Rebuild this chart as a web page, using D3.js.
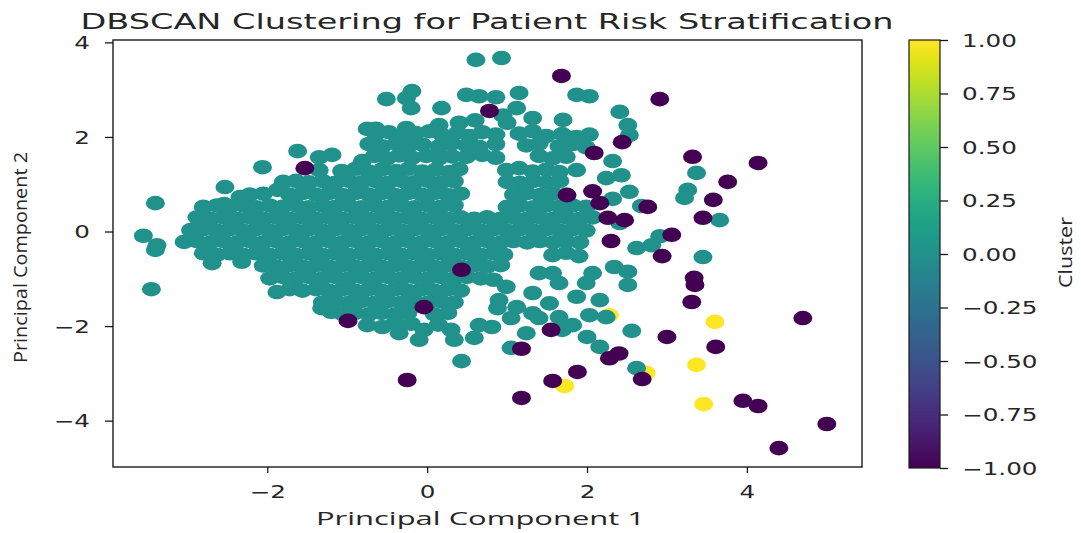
<!DOCTYPE html>
<html lang="en">
<head>
<meta charset="utf-8">
<title>DBSCAN Clustering for Patient Risk Stratification</title>
<script src="https://cdn.jsdelivr.net/npm/d3@7"></script>
<style>
  body { margin: 0; background: #fff; }
  svg { display: block; }
</style>
</head>
<body>
<script>
// cluster -1 (noise)
var noisePts = [
  [-1.53,1.34],[0.78,2.55],[1.68,3.29],[2.91,2.80],[2.09,1.66],[2.44,1.89],[1.75,0.77],
  [2.07,0.85],[2.16,0.60],[2.26,0.29],[2.47,0.24],[2.30,-0.20],[2.76,0.52],[3.06,-0.07],
  [2.94,-0.52],[3.32,1.58],[3.58,0.67],[3.76,1.05],[4.14,1.45],[3.45,0.29],[3.34,-0.98],
  [3.35,-1.13],[3.31,-1.49],[4.70,-1.83],[3.00,-2.23],[3.61,-2.44],[2.28,-2.68],[2.40,-2.58],
  [2.69,-3.12],[3.95,-3.58],[4.14,-3.69],[5.00,-4.07],[4.40,-4.58],[1.88,-2.97],[1.57,-3.16],
  [1.18,-3.52],[-0.25,-3.14],[1.18,-2.48],[1.55,-2.08],[-0.99,-1.89],[-0.04,-1.60],[0.43,-0.81]
];

// cluster 0 (the big blob), roughly row by row from top to bottom
var clusterZeroPts = [
  [0.61,3.63],[0.93,3.67],
  [-0.51,2.80],[-0.19,2.97],[-0.26,2.82],[-0.20,2.61],[0.18,2.61],[0.49,2.89],[0.65,2.86],
  [0.86,2.84],[1.15,2.93],[1.12,2.61],[1.87,2.89],[2.03,2.86],[1.70,2.36],[1.32,2.40],
  [-0.64,2.17],[-0.75,2.17],[-0.26,2.19],[0.15,2.25],[2.41,2.53],[2.51,2.25],[2.53,2.04],
  [0.95,2.45],[0.60,2.35],[0.40,2.30],[1.00,2.30],
  [-0.64,2.06],[-0.48,2.10],[-0.31,2.03],[-0.14,2.08],[0.03,2.12],[0.19,2.04],[0.38,2.09],
  [0.53,2.02],[0.69,2.10],[0.86,2.05],[1.15,2.07],[1.32,2.12],[1.49,2.02],[1.69,2.06],
  [1.87,2.00],[2.03,2.05],
  [-0.73,1.85],[-0.56,1.80],[-0.39,1.86],[-0.23,1.81],[-0.06,1.84],[0.15,1.80],[0.31,1.86],
  [0.49,1.82],[0.65,1.79],[0.86,1.85],[1.24,1.82],[1.40,1.86],[1.65,1.80],[1.82,1.85],[1.99,1.78],
  [-1.62,1.70],[-1.35,1.57],[-1.19,1.62],[-0.81,1.49],[-2.06,1.36],
  [-0.66,1.60],[-0.50,1.55],[-0.35,1.61],[-0.19,1.56],[-0.01,1.60],[0.15,1.55],[0.31,1.59],
  [0.49,1.58],[0.69,1.62],[0.86,1.56],[1.40,1.60],[1.57,1.55],[1.74,1.58],
  [-1.35,1.30],[-1.07,1.28],[-0.89,1.33],[-0.73,1.27],[-0.56,1.32],[-0.39,1.28],[-0.23,1.33],
  [-0.06,1.27],[0.11,1.31],[0.28,1.26],[0.40,1.32],[0.99,1.30],[1.15,1.34],[1.32,1.27],
  [1.49,1.31],[1.65,1.26],[1.87,1.30],
  [-1.80,1.05],[-1.64,1.07],[-1.48,1.04],[-1.31,1.07],[-1.15,1.03],[-0.98,1.07],[-0.82,1.04],
  [-0.65,1.07],[-0.49,1.03],[-0.32,1.07],[-0.16,1.04],[0.01,1.07],[0.17,1.03],[0.34,1.06],
  [1.00,1.05],[1.16,1.03],[1.33,1.07],[1.49,1.04],[1.66,1.07],
  [2.32,1.49],[2.43,1.19],[2.24,1.13],
  [-2.53,0.94],[-3.40,0.60],[-2.34,0.73],[-2.54,0.58],[-1.87,0.88],
  [-2.22,0.78],[-2.05,0.80],[-1.72,0.78],[-1.56,0.81],[-1.39,0.78],[-1.23,0.81],[-1.06,0.77],
  [-0.90,0.81],[-0.73,0.78],[-0.57,0.81],[-0.40,0.77],[-0.24,0.81],[-0.07,0.78],[0.09,0.81],
  [0.26,0.77],[0.42,0.80],[1.08,0.78],[1.25,0.81],[1.41,0.77],[1.58,0.80],[1.74,0.78],
  [2.53,0.84],[2.32,0.69],[2.68,0.54],[3.26,0.88],[3.22,0.71],[3.37,1.24],
  [-2.80,0.52],[-2.63,0.55],[-2.47,0.52],[-2.30,0.55],[-2.14,0.51],[-1.97,0.55],[-1.81,0.52],
  [-1.64,0.55],[-1.48,0.51],[-1.31,0.55],[-1.15,0.52],[-0.98,0.55],[-0.82,0.51],[-0.65,0.55],
  [-0.49,0.52],[-0.32,0.55],[-0.16,0.51],[0.01,0.55],[0.17,0.52],[0.34,0.55],[1.00,0.52],
  [1.16,0.55],[1.33,0.51],[1.49,0.55],[1.66,0.52],[1.82,0.55],[1.99,0.52],
  [-2.88,0.30],[-2.71,0.27],[-2.55,0.30],[-2.38,0.27],[-2.22,0.30],[-2.05,0.27],[-1.89,0.30],
  [-1.72,0.27],[-1.56,0.30],[-1.39,0.27],[-1.23,0.30],[-1.06,0.27],[-0.90,0.30],[-0.73,0.27],
  [-0.57,0.30],[-0.40,0.27],[-0.24,0.30],[-0.07,0.27],[0.09,0.30],[0.26,0.27],[0.42,0.30],
  [0.59,0.27],[0.75,0.30],[0.92,0.27],[1.08,0.30],[1.25,0.27],[1.41,0.30],[1.58,0.27],
  [1.74,0.30],[1.91,0.27],[2.07,0.30],[2.41,0.18],[3.66,0.24],
  [-2.96,0.03],[-2.80,0.05],[-2.63,0.02],[-2.47,0.05],[-2.30,0.02],[-2.14,0.05],[-1.97,0.02],
  [-1.81,0.05],[-1.64,0.02],[-1.48,0.05],[-1.31,0.02],[-1.15,0.05],[-0.98,0.02],[-0.82,0.05],
  [-0.65,0.02],[-0.49,0.05],[-0.32,0.02],[-0.16,0.05],[0.01,0.02],[0.17,0.05],[0.34,0.02],
  [0.50,0.05],[0.67,0.02],[0.83,0.05],[1.00,0.02],[1.16,0.05],[1.33,0.02],[1.49,0.05],
  [1.66,0.02],[1.82,0.05],[1.99,0.02],[-3.55,-0.09],
  [-3.38,-0.29],[-3.04,-0.22],[-2.88,-0.20],[-2.71,-0.23],[-2.55,-0.20],[-2.38,-0.23],[-2.22,-0.20],
  [-2.05,-0.23],[-1.89,-0.20],[-1.72,-0.23],[-1.56,-0.20],[-1.39,-0.23],[-1.23,-0.20],[-1.06,-0.23],
  [-0.90,-0.20],[-0.73,-0.23],[-0.57,-0.20],[-0.40,-0.23],[-0.24,-0.20],[-0.07,-0.23],[0.09,-0.20],
  [0.26,-0.23],[0.42,-0.20],[0.59,-0.23],[0.75,-0.20],[0.92,-0.23],[1.08,-0.20],[1.25,-0.23],
  [1.41,-0.20],[1.58,-0.23],[1.74,-0.20],[1.91,-0.23],[2.62,-0.35],[2.81,-0.29],[2.91,-0.10],
  [-2.80,-0.46],[-2.63,-0.49],[-2.47,-0.46],[-2.30,-0.49],[-2.14,-0.46],[-1.97,-0.49],[-1.81,-0.46],
  [-1.64,-0.49],[-1.48,-0.46],[-1.31,-0.49],[-1.15,-0.46],[-0.98,-0.49],[-0.82,-0.46],[-0.65,-0.49],
  [-0.49,-0.46],[-0.32,-0.49],[-0.16,-0.46],[0.01,-0.49],[0.17,-0.46],[0.34,-0.49],[0.50,-0.46],
  [0.67,-0.49],[0.83,-0.46],[0.96,-0.49],[1.57,-0.50],[1.74,-0.45],[1.90,-0.52],
  [-2.69,-0.67],[-2.32,-0.64],[-2.05,-0.72],[-1.89,-0.74],[-1.72,-0.71],[-1.56,-0.74],[-1.39,-0.71],
  [-1.23,-0.74],[-1.06,-0.71],[-0.90,-0.74],[-0.73,-0.71],[-0.57,-0.74],[-0.40,-0.71],[-0.24,-0.74],
  [-0.07,-0.71],[0.09,-0.74],[0.26,-0.71],[0.42,-0.74],[0.59,-0.71],[0.75,-0.74],[0.92,-0.71],
  [1.40,-0.88],[1.57,-0.88],[2.07,-0.88],[2.34,-0.75],[3.45,-0.54],
  [-1.97,-0.99],[-1.81,-0.96],[-1.64,-0.99],[-1.48,-0.96],[-1.31,-0.99],[-1.15,-0.96],[-0.98,-0.99],
  [-0.82,-0.96],[-0.65,-0.99],[-0.49,-0.96],[-0.32,-0.99],[-0.16,-0.96],[0.01,-0.99],[0.17,-0.96],
  [0.34,-0.99],[0.50,-0.96],[0.67,-0.99],[0.83,-1.02],[1.65,-1.09],[1.99,-1.09],
  [-1.88,-1.28],[-1.72,-1.22],[-1.56,-1.25],[-1.39,-1.22],[-1.23,-1.25],[-1.06,-1.22],[-0.90,-1.25],
  [-0.73,-1.22],[-0.57,-1.25],[-0.40,-1.22],[-0.24,-1.25],[-0.07,-1.22],[0.09,-1.25],[0.26,-1.22],
  [0.42,-1.25],[0.99,-1.17],[1.32,-1.30],[1.87,-1.38],[2.16,-1.45],
  [-1.31,-1.50],[-1.15,-1.47],[-0.98,-1.50],[-0.82,-1.47],[-0.65,-1.50],[-0.49,-1.47],[-0.32,-1.50],
  [-0.16,-1.47],[0.01,-1.50],[0.17,-1.47],[0.34,-1.50],[0.90,-1.45],[1.53,-1.52],
  [-1.32,-1.62],[-1.20,-1.70],[-1.06,-1.74],[-0.90,-1.72],[-0.73,-1.75],[-0.57,-1.72],[-0.40,-1.75],
  [-0.24,-1.72],[0.09,-1.75],[0.26,-1.72],[0.88,-1.62],[1.05,-1.83],[1.12,-1.60],[1.32,-1.73],
  [1.65,-1.81],[1.82,-1.98],[2.03,-1.77],[2.24,-1.81],
  [-0.75,-1.98],[-0.56,-2.02],[-0.40,-1.92],[-0.35,-2.15],[-0.20,-1.95],[-0.10,-2.29],[-0.04,-2.08],
  [0.14,-1.97],[0.30,-2.08],[0.34,-2.29],[0.59,-2.25],[0.65,-1.98],[0.81,-2.02],[1.40,-1.83],
  [1.69,-2.08],[2.00,-2.23],[2.16,-2.44],[1.05,-2.46],[1.24,-2.15],[0.43,-2.74],
  [-3.45,-1.22],[-3.40,-0.39],
  [2.51,-0.85],[2.51,-1.13],[2.56,-2.10],[2.62,-2.89]
];

// cluster 1
var clusterOnePts = [
  [2.28,-1.77],[3.60,-1.91],[2.74,-2.99],[3.37,-2.82],[3.46,-3.65],[1.72,-3.27]
];

var xTicks = [-2, 0, 2, 4];
var yTicks = [-4, -2, 0, 2, 4];
var cbarTicks = [-1, -0.75, -0.5, -0.25, 0, 0.25, 0.5, 0.75, 1];

var w = 1081;
var h = 533;
var plotL = 113, plotR = 862, plotT = 40, plotB = 467;
var stretch = 1.45;   // picture is wider than tall, text included
var textColor = "#262626";

var svg = d3.select("body").append("svg")
    .attr("width", w)
    .attr("height", h);

var x = d3.scaleLinear().domain([-3.93, 5.44]).range([plotL, plotR]);
var y = d3.scaleLinear().domain([-4.98, 4.05]).range([plotB, plotT]);

function clusterColor(c) {
    return d3.interpolateViridis((c + 1) / 2);
}

// draw order: cluster 1, cluster 0, then noise on top
var layers = [
    { pts: clusterOnePts, c: 1 },
    { pts: clusterZeroPts, c: 0 },
    { pts: noisePts, c: -1 }
];
layers.forEach(function(layer) {
    svg.append("g")
       .selectAll("ellipse")
       .data(layer.pts)
       .enter()
       .append("ellipse")
       .attr("cx", function(d) { return x(d[0]); })
       .attr("cy", function(d) { return y(d[1]); })
       .attr("rx", 9.5)
       .attr("ry", 7.3)
       .attr("fill", clusterColor(layer.c));
});

// frame
svg.append("rect")
   .attr("x", plotL)
   .attr("y", plotT)
   .attr("width", plotR - plotL)
   .attr("height", plotB - plotT)
   .attr("fill", "none")
   .attr("stroke", "#1a1a1a")
   .attr("stroke-width", 1.4);

function styleTicks(g) {
    g.select(".domain").remove();
    g.selectAll(".tick line").attr("stroke", "#1a1a1a").attr("stroke-width", 1.3);
    g.selectAll("text")
     .attr("font-family", "DejaVu Sans")
     .attr("font-size", 17)
     .attr("fill", textColor)
     .attr("transform", "scale(" + stretch + ",1)");
}

// x axis
var gx = svg.append("g")
    .attr("transform", "translate(0," + plotB + ")")
    .call(d3.axisBottom(x).tickValues(xTicks).tickSize(6).tickSizeOuter(0).tickFormat(d3.format("d")));
styleTicks(gx);
gx.selectAll("text").attr("y", 18.5);

// y axis
var gy = svg.append("g")
    .attr("transform", "translate(" + plotL + ",0)")
    .call(d3.axisLeft(y).tickValues(yTicks).tickSize(8).tickSizeOuter(0).tickFormat(d3.format("d")));
styleTicks(gy);
gy.selectAll("text").attr("x", -23 / stretch).attr("dy", "0.36em");

// colorbar
var cbL = 909, cbR = 940, cbT = 40, cbB = 468;
var cb = d3.scaleLinear().domain([-1, 1]).range([cbB, cbT]);

var grad = svg.append("defs").append("linearGradient")
    .attr("id", "viridis")
    .attr("x1", 0).attr("y1", 0)
    .attr("x2", 0).attr("y2", 1);
d3.range(0, 21).forEach(function(i) {
    grad.append("stop")
        .attr("offset", (i * 5) + "%")
        .attr("stop-color", d3.interpolateViridis(1 - i / 20));
});

svg.append("rect")
   .attr("x", cbL)
   .attr("y", cbT)
   .attr("width", cbR - cbL)
   .attr("height", cbB - cbT)
   .attr("fill", "url(#viridis)")
   .attr("stroke", "#1a1a1a")
   .attr("stroke-width", 1.2);

var gc = svg.append("g")
    .attr("transform", "translate(" + cbR + ",0)")
    .call(d3.axisRight(cb).tickValues(cbarTicks).tickSize(8).tickSizeOuter(0).tickFormat(d3.format(".2f")));
styleTicks(gc);
gc.selectAll("text").attr("x", 22 / stretch).attr("dy", "0.36em");

// title and labels
svg.append("text")
   .attr("x", 487)
   .attr("y", 28.5)
   .attr("text-anchor", "middle")
   .attr("font-family", "DejaVu Sans")
   .attr("font-size", 21)
   .attr("fill", textColor)
   .attr("textLength", 813)
   .attr("lengthAdjust", "spacingAndGlyphs")
   .text("DBSCAN Clustering for Patient Risk Stratification");

svg.append("text")
   .attr("x", 480.5)
   .attr("y", 525)
   .attr("text-anchor", "middle")
   .attr("font-family", "Open Sans")
   .attr("font-size", 19)
   .attr("fill", textColor)
   .attr("textLength", 329)
   .attr("lengthAdjust", "spacingAndGlyphs")
   .text("Principal Component 1");

svg.append("text")
   .attr("transform", "translate(27,257.5) rotate(-90)")
   .attr("text-anchor", "middle")
   .attr("font-family", "Open Sans")
   .attr("font-size", 18)
   .attr("fill", textColor)
   .attr("textLength", 211)
   .attr("lengthAdjust", "spacingAndGlyphs")
   .text("Principal Component 2");

svg.append("text")
   .attr("transform", "translate(1072,252.5) rotate(-90)")
   .attr("text-anchor", "middle")
   .attr("font-family", "Open Sans")
   .attr("font-size", 18)
   .attr("fill", textColor)
   .attr("textLength", 71)
   .attr("lengthAdjust", "spacingAndGlyphs")
   .text("Cluster");
</script>
</body>
</html>
